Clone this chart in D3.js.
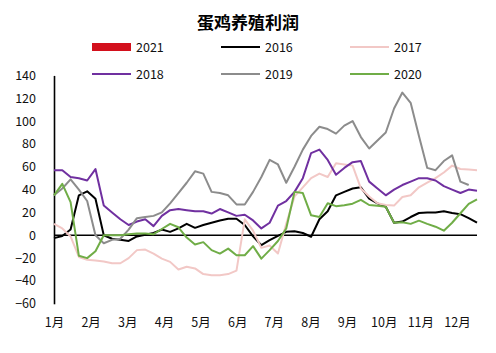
<!DOCTYPE html>
<html>
<head>
<meta charset="utf-8">
<script src="https://cdn.jsdelivr.net/npm/d3@7/dist/d3.min.js"></script>
<style>
    body { margin: 0; background: #fff; }
    text { font-family: "Noto Sans CJK SC", "Noto Sans", sans-serif; }
</style>
</head>
<body>
<div id="chart"></div>
<script>
// 周度数据，单位：元/羽
const months = ["1月", "2月", "3月", "4月", "5月", "6月", "7月", "8月", "9月", "10月", "11月", "12月"];
const years = ["2021", "2016", "2017", "2018", "2019", "2020"];
const yTicks = [-60, -40, -20, 0, 20, 40, 60, 80, 100, 120, 140];

const profit2021 = [];
const profit2016 = [-2.5, -0.6, 5, 35, 38.5, 32, 0, -3, -4, -5, -1, 0.5, 2, 5, 3, 6, 10, 6.5, 9, 11,
    13, 14.5, 14.5, 9, -1, -8.7, -4.3, -0.5, 3, 3.5, 2, -1.3, 14, 21, 35, 38, 41, 42, 32, 28,
    25, 11, 12, 16, 19.5, 20, 20, 21, 19.5, 18.5, 15, 11];
const profit2017 = [10, 6, -1, -19, -21.5, -22, -23, -24.5, -24.5, -20, -13, -12.5, -16, -20.5, -23.3, -30, -27.5, -29, -34, -35,
    -35, -34, -31, 14, 4, -11, -9, -16, 10, 34, 42, 50, 54, 51, 63, 62, 61, 41, 34, 28,
    26.5, 26, 33.5, 35, 42, 46, 50, 55, 61, 58, 57.5, 57];
const profit2018 = [57, 57, 51, 50, 48, 58, 26, 20, 14, 9, 12, 14, 8, 17, 22, 23, 22, 21, 21, 19,
    23, 20, 17, 18, 13, 6, 11, 26, 30, 38, 50, 72, 75, 66, 53, 59, 64, 65, 47, 41,
    35, 40, 44, 47, 50, 50, 48, 43, 40, 37, 40, 39];
const profit2019 = [35, 41, 49, 40, 30, 0, -7, -4, -3, 5, 15, 16, 17, 20, 28, 37, 46, 56, 54, 38,
    37, 35, 27, 27, 38, 51, 66, 62, 46, 60, 75, 87, 95, 93, 89, 96, 100, 86, 76, 83,
    90, 111, 125, 116, 87, 59, 57, 65, 70, 47, 44, null];
const profit2020 = [35, 45, 29, -18, -20, -14, 0, 0, 0, 1, 1.5, 1.5, 1, 5.5, 10, 7, -2, -8, -6, -13,
    -16, -11.7, -17.5, -17.5, -9.5, -20.4, -13, -5, 6, 38, 37, 17.5, 16, 28, 25.5, 26.3, 27.7, 31, 26.5, 25.8,
    25, 11, 11.5, 10, 12.8, 10, 7.5, 4, 11, 19.3, 27.5, 31.5];

class ProfitChart {
    constructor(element, configs = {}) {
        let defaultConfig = {
            width: 496,
            height: 353,
            plot: { left: 54, right: 477, top: 75.4, bottom: 303.8, monthEnd: 457 },
            colors: {
                "2021": "#d3101c",
                "2016": "#000000",
                "2017": "#f2c8c6",
                "2018": "#7030a0",
                "2019": "#8c8c8c",
                "2020": "#70ad47"
            }
        };
        this.config = Object.assign({}, defaultConfig, configs);
        this.container = d3.select(element).append("svg")
            .attr("width", this.config.width)
            .attr("height", this.config.height);
        this.initParams();
        this.draw();
    }

    initParams() {
        this.series = [
            { name: "2021", values: profit2021 },
            { name: "2016", values: profit2016 },
            { name: "2017", values: profit2017 },
            { name: "2018", values: profit2018 },
            { name: "2019", values: profit2019 },
            { name: "2020", values: profit2020 }
        ];
        this.weeks = d3.max(this.series, s => s.values.length);
    }

    generateRange() {
        let p = this.config.plot;
        this.xRange = d3.scaleLinear().domain([0, this.weeks - 1]).range([p.left, p.right]);
        this.monthRange = d3.scalePoint().domain(months).range([p.left, p.monthEnd]);
        this.yRange = d3.scaleLinear().domain([d3.min(yTicks), d3.max(yTicks)]).range([p.bottom, p.top]);
    }

    generateTitle() {
        this.container.append("text")
            .attr("x", 248)
            .attr("y", 23)
            .attr("dy", "0.35em")
            .attr("text-anchor", "middle")
            .style("font-size", "17px")
            .style("font-weight", "bold")
            .text("蛋鸡养殖利润");
    }

    generateLegend() {
        let legend = this.container.append("g").attr("class", "legend");
        let item = legend.selectAll(".item")
            .data(years)
            .enter()
            .append("g")
            .attr("class", "item")
            .attr("transform", (d, i) => "translate(" + (92 + (i % 3) * 129) + "," + (47 + Math.floor(i / 3) * 27) + ")");

        item.filter(d => d === "2021").append("rect")
            .attr("x", 0).attr("y", -4)
            .attr("width", 39).attr("height", 8)
            .attr("fill", d => this.config.colors[d]);

        item.filter(d => d !== "2021").append("line")
            .attr("x1", 0).attr("x2", 39)
            .attr("stroke", d => this.config.colors[d])
            .attr("stroke-width", 2);

        item.append("text")
            .attr("x", 44)
            .attr("dy", "0.36em")
            .style("font-size", "12.5px")
            .attr("fill", "#111")
            .text(d => d);
    }

    generateAxis() {
        let p = this.config.plot;
        let axisY = this.container.append("g")
            .attr("class", "axisY")
            .attr("transform", "translate(" + p.left + ",0)")
            .call(d3.axisLeft(this.yRange).tickValues(yTicks).tickSize(0).tickSizeOuter(0).tickPadding(18));
        axisY.select(".domain").attr("stroke", "#000").attr("stroke-width", 1.6);
        axisY.selectAll("text").style("font-size", "12.5px").attr("fill", "#111")
            .style("font-family", "\"Noto Sans CJK SC\", sans-serif");

        this.container.append("line")
            .attr("class", "zero")
            .attr("x1", p.left).attr("x2", p.right)
            .attr("y1", this.yRange(0)).attr("y2", this.yRange(0))
            .attr("stroke", "#000")
            .attr("stroke-width", 1.4);

        let axisX = this.container.append("g")
            .attr("class", "axisX")
            .attr("transform", "translate(0," + p.bottom + ")")
            .call(d3.axisBottom(this.monthRange).tickSize(0).tickPadding(14));
        axisX.select(".domain").remove();
        axisX.selectAll("text").style("font-size", "12.5px").attr("fill", "#111")
            .style("font-family", "\"Noto Sans CJK SC\", sans-serif");
    }

    generateLine() {
        return d3.line()
            .defined(d => d != null)
            .x((d, i) => this.xRange(i))
            .y(d => this.yRange(d));
    }

    drawLine() {
        let line = this.generateLine();
        this.container.append("g")
            .attr("class", "chartContainer")
            .selectAll(".series")
            .data(this.series.filter(s => s.values.length))
            .enter()
            .append("path")
            .attr("class", "series")
            .attr("fill", "none")
            .attr("stroke", d => this.config.colors[d.name])
            .attr("stroke-width", 2)
            .attr("stroke-linejoin", "round")
            .attr("d", d => line(d.values));
    }

    draw() {
        this.generateRange();
        this.generateTitle();
        this.generateLegend();
        this.generateAxis();
        this.drawLine();
    }
}

new ProfitChart("#chart");
</script>
</body>
</html>
